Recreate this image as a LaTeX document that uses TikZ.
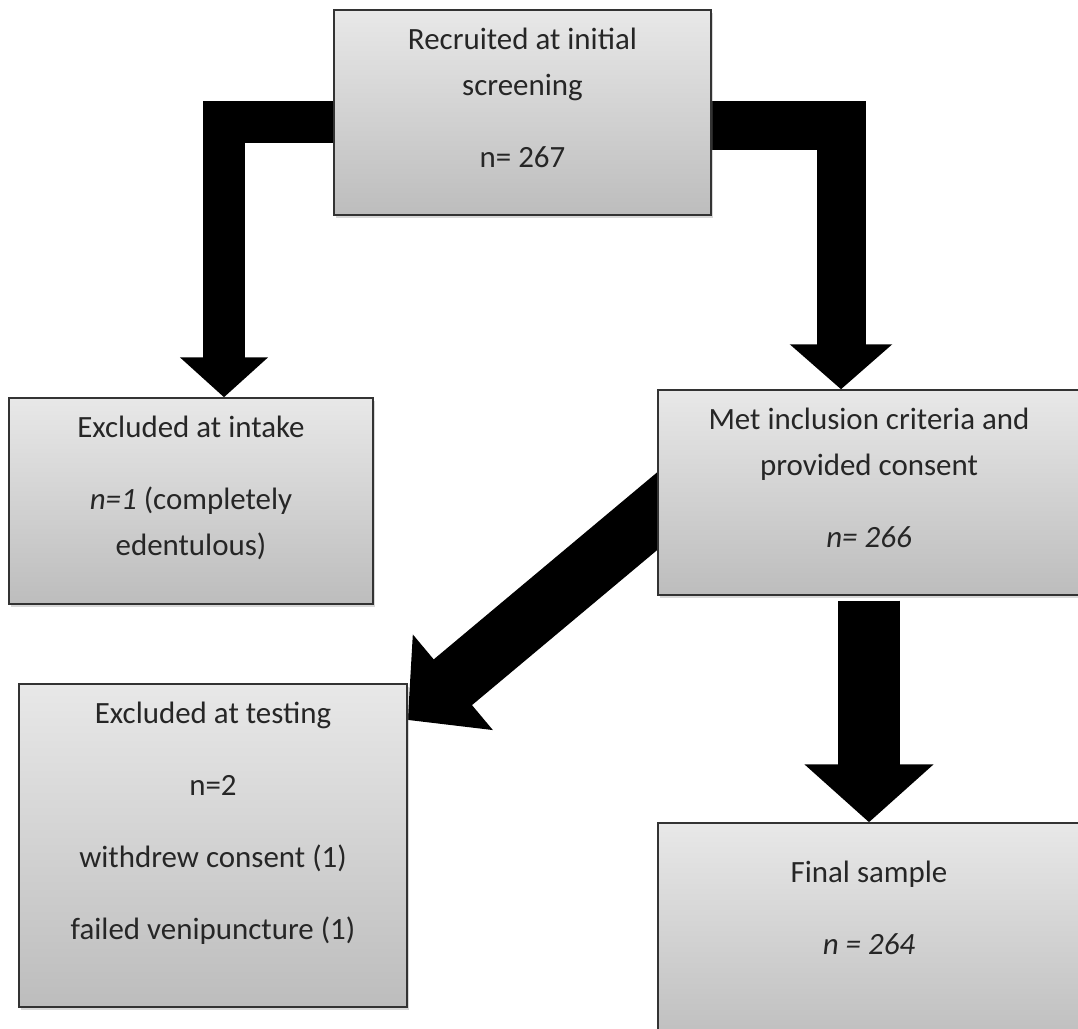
\documentclass[tikz,border=0pt]{standalone}
\usepackage{fontspec}
\setmainfont{Carlito}
\usetikzlibrary{arrows.meta, positioning, shadows, backgrounds}

\begin{document}
\begin{tikzpicture}[x=0.025cm, y=-0.025cm,
        box/.style={rectangle, draw=black!80, line width=1pt, top color=black!9, bottom color=black!26,
            drop shadow={opacity=0.3, shadow xshift=0.06cm, shadow yshift=-0.08cm}},
        txt/.style={inner sep=0pt, align=center, text=black!85, font=\fontsize{22}{32.7}\selectfont},
        bigarrow/.style={draw=black, line join=miter}]

    \useasboundingbox (0,0) rectangle (1078,1028);

    % boxes
    \node (recruit) [box, minimum width=9.425cm, minimum height=5.125cm] at (522.5,112.5) {};
    \node (intake) [box, minimum width=9.1cm, minimum height=5.15cm] at (191,501) {};
    \node (met) [box, minimum width=10.55cm, minimum height=5.125cm] at (869,492.5) {};
    \node (testing) [box, minimum width=9.7cm, minimum height=8.075cm] at (213,845.5) {};
    \node (final) [box, minimum width=10.55cm, minimum height=5.675cm] at (869,936.5) {};

    % texts
    \node (recruittxt) [txt, below=0.45cm of recruit.north] {Recruited at initial\\screening\\[0.65cm]n= 267};
    \node (intaketxt) [txt, below=0.45cm of intake.north] {Excluded at intake\\[0.65cm]\textit{n=1} (completely\\edentulous)};
    \node (mettxt) [txt, below=0.45cm of met.north] {Met inclusion criteria and\\provided consent\\[0.65cm]\textit{n= 266}};
    \node (testingtxt) [txt, below=0.47cm of testing.north] {Excluded at testing\\[0.65cm]n=2\\[0.65cm]withdrew consent (1)\\[0.65cm]failed venipuncture (1)};
    \node (finaltxt) [txt, below=0.95cm of final.north] {Final sample\\[0.65cm]\textit{n = 264}};

    % block arrows
    \begin{scope}[on background layer]
        \fill [white] (0,0) rectangle (1078,1028);
        \coordinate (diagstart) at (698,477);
        \draw [bigarrow, line width=1.05cm, -{Triangle[width=2.15cm, length=1cm]}] (recruit.center |- 0,121.5) -| (224,0 |- intake.north);
        \draw [bigarrow, line width=1.225cm, -{Triangle[width=2.5cm, length=1.125cm]}] (recruit.center |- 0,125) -| (841,0 |- met.north);
        \draw [bigarrow, line width=1.49cm, -{Triangle[width=3.03cm, length=1.47cm]}] (diagstart) -- (testing.east |- 0,720);
        \draw [bigarrow, line width=1.55cm, -{Triangle[width=3.15cm, length=1.45cm]}] ([yshift=-0.125cm]met.south) -- (final.north);
    \end{scope}
\end{tikzpicture}
\end{document}
